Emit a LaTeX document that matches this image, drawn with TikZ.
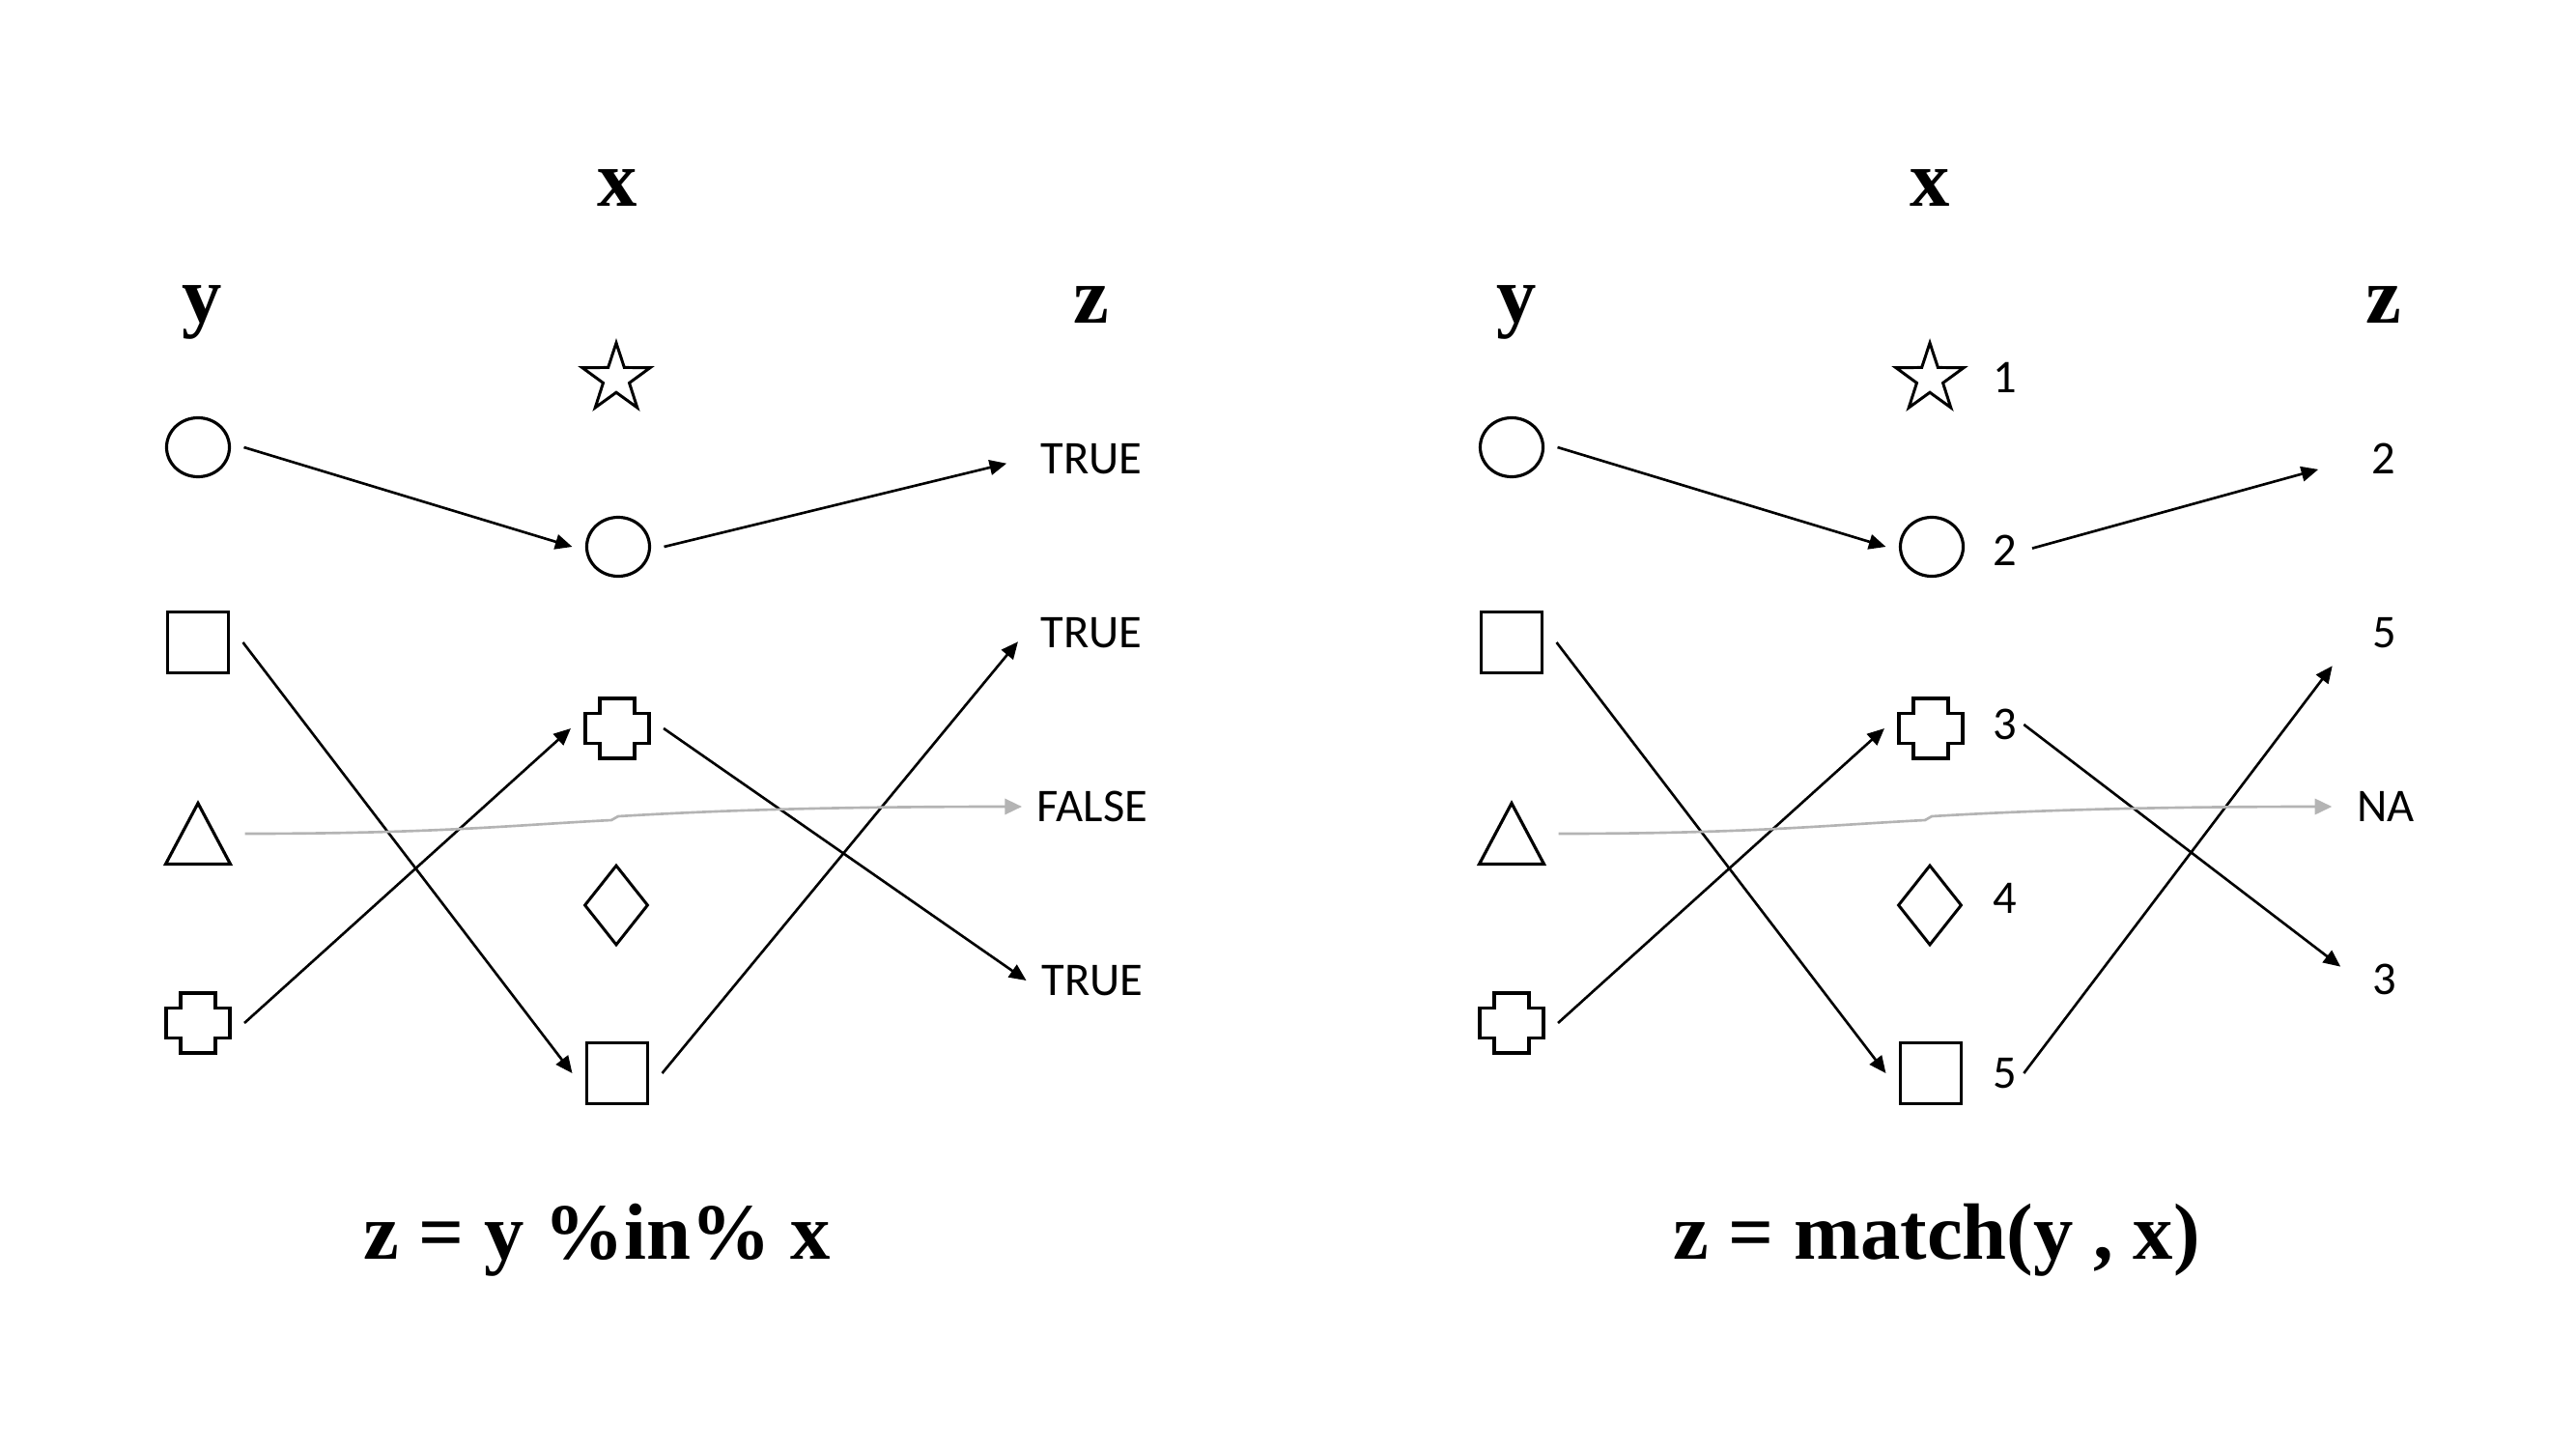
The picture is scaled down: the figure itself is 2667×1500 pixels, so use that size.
\documentclass[tikz,border=0pt]{standalone}
\usepackage{fontspec}
\setmainfont{Liberation Serif}
\newfontfamily\labelfont{Carlito}
\usetikzlibrary{shapes.geometric, arrows.meta}
\definecolor{MatchBlack}{HTML}{000000}
\definecolor{MissGrey}{HTML}{B4B4B4}
\tikzset{
    % Symbol styles
    roundmark/.style={
        ellipse,
        draw=MatchBlack,
        line width=0.9pt,
        minimum width=0.65cm,
        minimum height=0.61cm,
        inner sep=0pt,
        outer sep=0.15cm
    },
    squaremark/.style={
        rectangle,
        draw=MatchBlack,
        line width=0.9pt,
        minimum size=0.63cm,
        inner sep=0pt,
        outer sep=0.15cm
    },
    starmark/.style={
        star,
        star points=5,
        star point ratio=2.6,
        draw=MatchBlack,
        line width=0.85pt,
        minimum size=0.74cm,
        inner sep=0pt
    },
    diamondmark/.style={
        diamond,
        draw=MatchBlack,
        line width=0.85pt,
        minimum width=0.66cm,
        minimum height=0.83cm,
        inner sep=0pt
    },
    % empty boxes, outline drawn afterwards
    plusmark/.style={
        rectangle,
        minimum width=0.66cm,
        minimum height=0.62cm,
        inner sep=0pt,
        outer sep=0.15cm
    },
    trimark/.style={
        rectangle,
        minimum width=0.67cm,
        minimum height=0.63cm,
        inner sep=0pt,
        outer sep=0.15cm
    },
    outline/.style={
        draw=MatchBlack,
        line width=0.9pt,
        line join=miter
    },
    % Text styles
    header/.style={
        anchor=base,
        inner sep=0pt,
        font=\fontsize{23.5pt}{28pt}\selectfont\bfseries
    },
    zlabel/.style={
        inner sep=0pt,
        outer sep=0.16cm,
        font=\labelfont\fontsize{13.8pt}{16pt}\selectfont
    },
    numlabel/.style={
        inner sep=0pt,
        outer sep=0.07cm,
        font=\labelfont\fontsize{13.8pt}{16pt}\selectfont
    },
    % Arrow styles
    matcharrow/.style={
        -{Triangle[length=5pt,width=4.4pt]},
        line width=0.75pt,
        MatchBlack
    },
    missarrow/.style={
        -{Triangle[length=5pt,width=4.6pt]},
        line width=0.75pt,
        MissGrey
    }
}
\begin{document}
\begin{tikzpicture}[x=0.01cm, y=-0.01cm]
    \fill[white] (0,0) rectangle (2667,1500);
    \useasboundingbox (0,0) rectangle (2667,1500);

    % Left: headers
    \node[header] (lhx) at (639,214) {x};
    \node[header] (lhy) at (209,333) {y};
    \node[header] (lhz) at (1130,334) {z};

    % Left: y
    \node[roundmark] (lyc) at (205,463) {};
    \node[squaremark] (lys) at (205,665) {};
    \node[trimark] (lyt) at (205,863) {};
    \node[plusmark] (lyp) at (205,1059) {};

    % Left: x
    \node[starmark] (lxst) at (638,392) {};
    \node[roundmark] (lxc) at (640,566) {};
    \node[plusmark] (lxp) at (639,754) {};
    \node[diamondmark] (lxd) at (638,937) {};
    \node[squaremark] (lxs) at (639,1111) {};

    % Left: z
    \node[zlabel] (lz1) at (1130,475) {TRUE};
    \node[zlabel] (lz2) at (1130,655) {TRUE};
    \node[zlabel] (lz3) at (1131,835) {FALSE};
    \node[zlabel] (lz4) at (1131,1015) {TRUE};

    % Left: formula
    \node[header] (lform) at (618,1303) {z = y \%in\% x};

    % Right: headers
    \node[header] (rhx) at (1998,214) {x};
    \node[header] (rhy) at (1570,333) {y};
    \node[header] (rhz) at (2468,334) {z};

    % Right: y
    \node[roundmark] (ryc) at (1565,463) {};
    \node[squaremark] (rys) at (1565,665) {};
    \node[trimark] (ryt) at (1565,863) {};
    \node[plusmark] (ryp) at (1565,1059) {};

    % Right: x with positions
    \node[starmark] (rxst) at (1998,392) {};
    \node[roundmark] (rxc) at (2000,566) {};
    \node[plusmark] (rxp) at (1999,754) {};
    \node[diamondmark] (rxd) at (1998,937) {};
    \node[squaremark] (rxs) at (1999,1111) {};
    \node[numlabel] (rn1) at (2076,391) {1};
    \node[numlabel] (rn2) at (2076,570) {2};
    \node[numlabel] (rn3) at (2076,750) {3};
    \node[numlabel] (rn4) at (2076,930) {4};
    \node[numlabel] (rn5) at (2076,1111) {5};

    % Right: z
    \node[zlabel] (rz1) at (2468,475) {2};
    \node[zlabel] (rz2) at (2469,655) {5};
    \node[zlabel] (rz3) at (2470,835) {NA};
    \node[zlabel] (rz4) at (2469,1014) {3};

    % Right: formula
    \node[header] (rform) at (2005,1303) {z = match(y , x)};

    % Plus and triangle outlines
    \foreach \mark in {lyp, lxp, ryp, rxp}
        \draw[outline] (\mark.center) ++(-0.18cm,0.31cm) -- ++(0.36cm,0cm) -- ++(0cm,-0.155cm)
            -- ++(0.15cm,0cm) -- ++(0cm,-0.31cm) -- ++(-0.15cm,0cm) -- ++(0cm,-0.155cm)
            -- ++(-0.36cm,0cm) -- ++(0cm,0.155cm) -- ++(-0.15cm,0cm) -- ++(0cm,0.31cm)
            -- ++(0.15cm,0cm) -- cycle;
    \foreach \mark in {lyt, ryt}
        \draw[outline] (\mark.center) ++(-0.335cm,-0.315cm) -- ++(0.67cm,0cm) -- ++(-0.335cm,0.63cm) -- cycle;

    % Left arrows
    \draw[matcharrow] (lyc.east) -- (lxc.west);
    \draw[matcharrow] (lys.east) -- (lxs.west);
    \draw[matcharrow] (lyp.east) -- (lxp.west);
    \draw[matcharrow, shorten >=0.2cm] (lxc.east) -- (lz1.west);
    \draw[matcharrow, shorten >=0.12cm] (lxs.east) -- (lz2.west);
    \draw[matcharrow] (lxp.east) -- (lz4.west);

    % Left: no match
    \coordinate (lbendA) at (633,849);
    \coordinate (lbendB) at (640,845);
    \draw[missarrow] (lyt.east) .. controls +(200,0) and +(-100,5) .. (lbendA) -- (lbendB)
        .. controls +(100,-6) and +(-200,0) .. (lz3.west);

    % Right arrows
    \draw[matcharrow] (ryc.east) -- (rxc.west);
    \draw[matcharrow] (rys.east) -- (rxs.west);
    \draw[matcharrow] (ryp.east) -- (rxp.west);
    \draw[matcharrow, shorten <=0.09cm, shorten >=0.41cm] (rn2.east) -- (rz1.west);
    \draw[matcharrow, shorten >=0.43cm] (rn5.east) -- (rz2.west);
    \draw[matcharrow, shorten >=0.22cm] (rn3.east) -- (rz4.west);

    % Right: no match
    \coordinate (rbendA) at (1993,849);
    \coordinate (rbendB) at (2000,845);
    \draw[missarrow, shorten >=0.1cm] (ryt.east) .. controls +(200,0) and +(-100,5) .. (rbendA) -- (rbendB)
        .. controls +(100,-6) and +(-200,0) .. (rz3.west);
\end{tikzpicture}
\end{document}
